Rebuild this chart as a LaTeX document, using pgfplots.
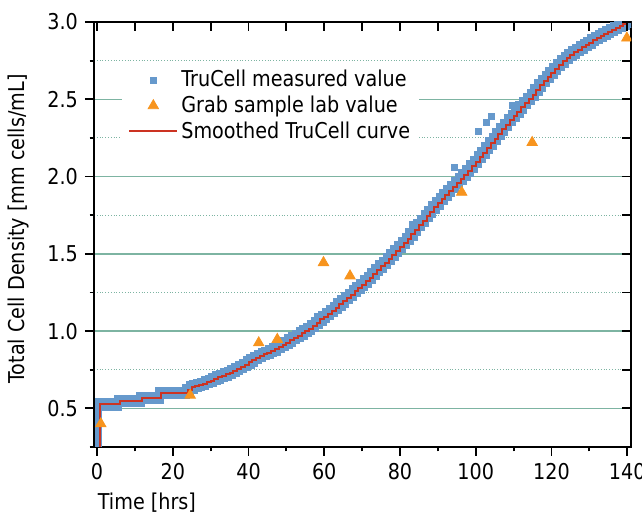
\documentclass[border=0pt]{standalone}
\usepackage{fontspec}
\setmainfont{DejaVu Sans}[FakeStretch=0.88]
\usepackage{pgfplots}
\usepackage{pgfplotstable}
\pgfplotsset{compat=1.18}

\definecolor{tcblue}{RGB}{102,153,204}
\definecolor{tcorange}{RGB}{247,148,30}
\definecolor{tcred}{RGB}{204,51,34}
\definecolor{gridc}{RGB}{125,180,162}
\newcommand\f{\fontsize{10.9}{13}\selectfont}

% TruCell measured / smoothed values (hrs, mm cells/mL)
\pgfplotstableread{
x y
1 0.525
2 0.525
3 0.525
4 0.525
5 0.525
6 0.548
7 0.548
8 0.548
9 0.548
10 0.548
11 0.548
12 0.568
13 0.568
14 0.568
15 0.568
16 0.568
17 0.598
18 0.598
19 0.598
20 0.598
21 0.598
22 0.598
23 0.598
24 0.622
25 0.635
26 0.645
27 0.652
28 0.660
29 0.670
30 0.680
31 0.690
32 0.700
33 0.710
34 0.720
35 0.730
36 0.742
37 0.754
38 0.768
39 0.782
40 0.798
41 0.810
42 0.824
43 0.837
44 0.850
45 0.860
46 0.870
47 0.882
48 0.896
49 0.910
50 0.925
51 0.940
52 0.955
53 0.970
54 0.985
55 1.000
56 1.015
57 1.035
58 1.055
59 1.075
60 1.093
61 1.112
62 1.132
63 1.152
64 1.172
65 1.192
66 1.214
67 1.236
68 1.258
69 1.280
70 1.300
71 1.322
72 1.342
73 1.368
74 1.394
75 1.418
76 1.443
77 1.468
78 1.493
79 1.518
80 1.545
81 1.572
82 1.598
83 1.625
84 1.655
85 1.685
86 1.715
87 1.745
88 1.772
89 1.800
90 1.826
91 1.853
92 1.880
93 1.908
94 1.935
95 1.960
96 1.985
97 2.008
98 2.035
99 2.065
100 2.095
101 2.125
102 2.155
103 2.185
104 2.215
105 2.245
106 2.275
107 2.305
108 2.335
109 2.365
110 2.392
111 2.420
112 2.447
113 2.475
114 2.502
115 2.530
116 2.560
117 2.590
118 2.618
119 2.645
120 2.672
121 2.698
122 2.722
123 2.745
124 2.766
125 2.785
126 2.803
127 2.820
128 2.836
129 2.852
130 2.867
131 2.882
132 2.897
133 2.911
134 2.925
135 2.938
136 2.951
137 2.963
138 2.975
139 2.987
140 3.000
}\meas

% scattered measured points off the band
\pgfplotstableread{
x y
0.35 0.27
0.35 0.31
0.35 0.35
0.35 0.39
0.35 0.43
0.35 0.47
0.35 0.51
83.4 1.69
94.4 2.06
100.8 2.29
102.8 2.35
104.1 2.39
109.8 2.46
}\outl

% grab samples (lab)
\pgfplotstableread{
x y
1.0 0.40
24.6 0.585
42.7 0.924
47.6 0.946
59.8 1.443
66.8 1.357
96.3 1.898
114.9 2.22
139.9 2.896
}\grab

\begin{document}
\begin{tikzpicture}
\useasboundingbox (-47pt,-32.5pt) rectangle (274pt,223.5pt);
\begin{axis}[
  scale only axis, width=268.5pt, height=212.5pt,
  at={(0,0)}, anchor=south west,
  xmin=-0.8, xmax=141, ymin=0.25, ymax=3.0,
  clip marker paths=true,
  axis line style={line width=1pt},
  every tick/.style={black, line width=0.9pt},
  tick align=outside, xtick pos=bottom, ytick pos=left,
  major tick length=4.5pt, minor tick length=2.2pt,
  xtick={0,20,...,140}, minor xtick={10,30,...,130},
  ytick={0.5,1,...,3}, minor ytick={0.25,0.75,...,2.75},
  ymajorgrids, yminorgrids,
  major grid style={gridc, line width=0.7pt},
  minor grid style={gridc, densely dotted, line width=0.6pt},
  /pgf/number format/assume math mode=true,
  tick label style={font=\f},
  yticklabel style={/pgf/number format/fixed, /pgf/number format/fixed zerofill, /pgf/number format/precision=1},
  xlabel={Time [hrs]}, ylabel={Total Cell Density [mm cells/mL]},
  label style={font=\f},
  xlabel style={at={(axis description cs:-0.006,-0.131)}, anchor=west},
  ylabel style={at={(axis description cs:-0.1415,0.513)}, anchor=center},
  legend cell align=left,
  legend image code/.code={\draw[mark repeat=2,mark phase=2,#1] plot coordinates {(0pt,0pt)(12pt,0pt)(24pt,0pt)};},
  legend style={at={(axis description cs:0.052,0.9035)}, anchor=north west,
    draw=none, fill=white, font=\f, inner xsep=3pt, inner ysep=2pt, row sep=0pt,
    nodes={inner sep=1.5pt}},
]
\addplot[only marks, mark=square*, mark size=2.8pt, tcblue, forget plot] table {\meas};
\addplot[only marks, mark=square*, mark size=1.5pt, tcblue, forget plot] table {\outl};
\addplot[tcred, line width=1pt, forget plot] coordinates {(0.8,0.2)(0.8,0.53)(1,0.53)};
\addplot[tcred, line width=1pt, const plot, forget plot] table {\meas};
\addplot[only marks, mark=triangle*, mark size=3pt, tcorange, forget plot] table {\grab};
\addlegendimage{only marks, mark=square*, mark size=1.5pt, tcblue}
\addlegendentry{TruCell measured value}
\addlegendimage{only marks, mark=triangle*, mark size=3pt, tcorange}
\addlegendentry{Grab sample lab value}
\addlegendimage{tcred, line width=1pt}
\addlegendentry{Smoothed TruCell curve}
\end{axis}
\begin{axis}[
  scale only axis, width=268.5pt, height=212.5pt,
  at={(0,0)}, anchor=south west,
  xmin=-0.8, xmax=141, ymin=0.25, ymax=3.0,
  axis line style={draw=none},
  every tick/.style={black, line width=0.9pt},
  tick align=inside, xtick pos=top, ytick pos=right,
  major tick length=4.5pt, minor tick length=4.5pt,
  xtick={0,20,...,140}, minor xtick={10,30,...,130},
  ytick={0.5,1,...,3}, minor ytick={0.25,0.75,...,2.75},
  xticklabels={}, yticklabels={},
]
\end{axis}
\end{tikzpicture}
\end{document}
